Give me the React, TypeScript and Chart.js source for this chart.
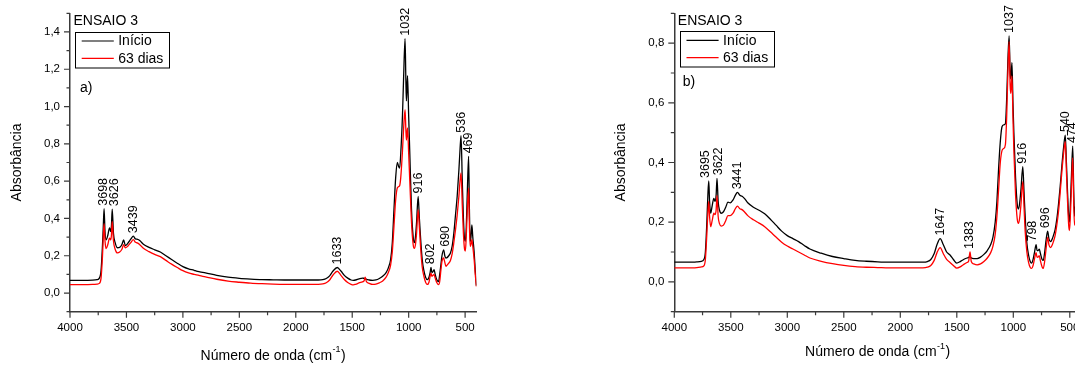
import React, { useEffect, useRef } from 'react';
import { Chart, registerables } from 'chart.js';
Chart.register(...registerables);

const FONT = "'Liberation Sans', Arial, Helvetica, sans-serif";
const AXIS = '#3a3a3a';

const seriesNames = ['Início', '63 dias'];
const seriesColors = ['#000000', '#ff0000'];

// ---------- Panel a) ----------
const waveA = [4000, 3900, 3800, 3760, 3740, 3725, 3712, 3705, 3698, 3690, 3680, 3665, 3650, 3640, 3633, 3626, 3615, 3600, 3580, 3560, 3540, 3525, 3510, 3490, 3460, 3439, 3420, 3400, 3380, 3350, 3300, 3250, 3200, 3150, 3100, 3050, 3000, 2950, 2900, 2880, 2850, 2800, 2700, 2600, 2500, 2400, 2300, 2200, 2100, 2000, 1900, 1800, 1760, 1730, 1700, 1670, 1633, 1600, 1570, 1540, 1510, 1490, 1470, 1440, 1410, 1395, 1385, 1375, 1350, 1320, 1290, 1260, 1230, 1200, 1180, 1160, 1145, 1130, 1115, 1100, 1090, 1080, 1070, 1055, 1045, 1032, 1025, 1020, 1010, 1000, 990, 975, 960, 950, 940, 930, 916, 905, 895, 880, 865, 850, 835, 820, 810, 802, 795, 785, 775, 765, 750, 735, 725, 715, 705, 690, 680, 670, 660, 645, 630, 615, 600, 585, 570, 555, 545, 536, 525, 515, 505, 498, 490, 480, 469, 462, 455, 448, 440, 432, 420, 410, 400];
const inicioA = [0.068, 0.068, 0.069, 0.072, 0.08, 0.12, 0.26, 0.36, 0.452, 0.33, 0.285, 0.31, 0.35, 0.33, 0.36, 0.45, 0.32, 0.27, 0.243, 0.245, 0.26, 0.285, 0.255, 0.265, 0.29, 0.305, 0.29, 0.288, 0.28, 0.262, 0.245, 0.232, 0.22, 0.2, 0.18, 0.16, 0.142, 0.13, 0.122, 0.118, 0.114, 0.108, 0.095, 0.085, 0.079, 0.075, 0.072, 0.071, 0.07, 0.07, 0.07, 0.07, 0.072, 0.078, 0.092, 0.118, 0.137, 0.118, 0.095, 0.08, 0.07, 0.068, 0.07, 0.076, 0.08, 0.079, 0.078, 0.074, 0.07, 0.068, 0.07, 0.078, 0.09, 0.11, 0.135, 0.18, 0.27, 0.45, 0.62, 0.7, 0.68, 0.67, 0.75, 0.95, 1.15, 1.364, 1.15, 1.03, 1.166, 0.95, 0.75, 0.45, 0.3, 0.27, 0.3, 0.38, 0.518, 0.4, 0.3, 0.18, 0.12, 0.085, 0.072, 0.085, 0.11, 0.138, 0.11, 0.115, 0.126, 0.1, 0.07, 0.062, 0.1, 0.15, 0.2, 0.232, 0.2, 0.188, 0.19, 0.2, 0.215, 0.25, 0.32, 0.42, 0.52, 0.66, 0.77, 0.844, 0.6, 0.4, 0.29, 0.277, 0.35, 0.55, 0.733, 0.45, 0.277, 0.3, 0.366, 0.3, 0.22, 0.12, 0.04];
const diasA = [0.045, 0.045, 0.046, 0.048, 0.052, 0.08, 0.2, 0.3, 0.372, 0.28, 0.238, 0.26, 0.295, 0.285, 0.31, 0.384, 0.28, 0.235, 0.215, 0.22, 0.235, 0.26, 0.242, 0.25, 0.272, 0.286, 0.272, 0.268, 0.258, 0.24, 0.222, 0.207, 0.195, 0.175, 0.155, 0.137, 0.12, 0.108, 0.1, 0.097, 0.093, 0.087, 0.074, 0.064, 0.058, 0.053, 0.05, 0.048, 0.047, 0.047, 0.047, 0.047, 0.049, 0.055, 0.07, 0.097, 0.117, 0.095, 0.073, 0.057, 0.047, 0.044, 0.047, 0.054, 0.06, 0.065, 0.085, 0.062, 0.052, 0.046, 0.048, 0.055, 0.065, 0.085, 0.11, 0.15, 0.22, 0.36, 0.5, 0.565, 0.57, 0.575, 0.62, 0.76, 0.88, 0.983, 0.88, 0.82, 0.885, 0.75, 0.6, 0.38, 0.26, 0.24, 0.26, 0.32, 0.447, 0.35, 0.25, 0.14, 0.09, 0.058, 0.046, 0.058, 0.09, 0.107, 0.09, 0.095, 0.1, 0.08, 0.055, 0.045, 0.062, 0.12, 0.17, 0.188, 0.165, 0.143, 0.15, 0.16, 0.175, 0.21, 0.27, 0.34, 0.42, 0.52, 0.6, 0.644, 0.47, 0.32, 0.235, 0.225, 0.3, 0.45, 0.563, 0.36, 0.25, 0.26, 0.286, 0.25, 0.18, 0.1, 0.035];
const peaksA = [3698, 3626, 3439, 1633, 1032, 916, 802, 690, 536, 469];
const labelPosA = [3700, 3601, 3439, 1633, 1032, 916, 810, 672, 536, 469];
const yMajorA = [0, 0.2, 0.4, 0.6, 0.8, 1.0, 1.2, 1.4];
const yMinorA = [-0.1, 0.1, 0.3, 0.5, 0.7, 0.9, 1.1, 1.3, 1.5];

// ---------- Panel b) ----------
const waveB = [4000, 3900, 3800, 3760, 3740, 3725, 3712, 3703, 3695, 3688, 3678, 3665, 3650, 3640, 3630, 3622, 3612, 3600, 3585, 3565, 3545, 3525, 3505, 3480, 3460, 3441, 3420, 3400, 3380, 3350, 3300, 3250, 3200, 3150, 3100, 3050, 3000, 2950, 2900, 2850, 2800, 2700, 2600, 2500, 2400, 2300, 2200, 2100, 2000, 1900, 1800, 1760, 1730, 1700, 1675, 1647, 1620, 1590, 1560, 1530, 1500, 1470, 1440, 1410, 1395, 1383, 1372, 1350, 1320, 1290, 1260, 1230, 1200, 1180, 1160, 1145, 1130, 1115, 1100, 1085, 1070, 1058, 1048, 1037, 1028, 1022, 1012, 1003, 995, 980, 965, 955, 945, 932, 916, 905, 895, 880, 865, 850, 838, 825, 812, 798, 790, 780, 770, 760, 745, 735, 722, 710, 696, 685, 672, 660, 645, 630, 615, 600, 585, 570, 555, 540, 530, 520, 510, 503, 495, 485, 474, 465, 458, 450, 440, 430, 420, 410, 400];
const inicioB = [0.066, 0.066, 0.067, 0.069, 0.074, 0.1, 0.2, 0.29, 0.338, 0.27, 0.23, 0.255, 0.28, 0.27, 0.29, 0.347, 0.27, 0.24, 0.23, 0.235, 0.25, 0.267, 0.265, 0.275, 0.29, 0.3, 0.29, 0.287, 0.28, 0.265, 0.25, 0.24, 0.228, 0.21, 0.19, 0.17, 0.155, 0.145, 0.135, 0.122, 0.11, 0.096, 0.085, 0.078, 0.072, 0.069, 0.067, 0.066, 0.066, 0.066, 0.066, 0.068, 0.075, 0.095, 0.125, 0.145, 0.125, 0.1, 0.09, 0.075, 0.063, 0.068, 0.075, 0.08, 0.082, 0.085, 0.08, 0.078, 0.078, 0.083, 0.092, 0.105, 0.125, 0.15, 0.2, 0.27, 0.38, 0.47, 0.52, 0.526, 0.53, 0.62, 0.74, 0.824, 0.7, 0.68, 0.735, 0.6, 0.5, 0.35, 0.26, 0.244, 0.26, 0.31, 0.386, 0.3, 0.22, 0.13, 0.09, 0.068, 0.063, 0.075, 0.1, 0.125, 0.105, 0.105, 0.11, 0.095, 0.075, 0.072, 0.1, 0.14, 0.17, 0.145, 0.135, 0.14, 0.155, 0.175, 0.21, 0.26, 0.32, 0.39, 0.45, 0.492, 0.4, 0.3, 0.22, 0.2, 0.26, 0.36, 0.455, 0.3, 0.22, 0.25, 0.27, 0.22, 0.15, 0.09, 0.05];
const diasB = [0.047, 0.047, 0.048, 0.05, 0.053, 0.075, 0.16, 0.23, 0.27, 0.22, 0.185, 0.205, 0.23, 0.225, 0.24, 0.29, 0.22, 0.195, 0.187, 0.19, 0.205, 0.222, 0.222, 0.23, 0.245, 0.254, 0.245, 0.242, 0.235, 0.222, 0.208, 0.197, 0.185, 0.168, 0.15, 0.133, 0.12, 0.11, 0.1, 0.09, 0.08, 0.069, 0.061, 0.055, 0.051, 0.049, 0.048, 0.047, 0.047, 0.047, 0.047, 0.049, 0.055, 0.072, 0.098, 0.115, 0.095, 0.075, 0.065, 0.055, 0.046, 0.05, 0.058, 0.065, 0.07, 0.1, 0.068, 0.06, 0.057, 0.06, 0.068, 0.08, 0.098, 0.12, 0.16, 0.22, 0.31, 0.4, 0.44, 0.447, 0.46, 0.56, 0.7, 0.805, 0.66, 0.632, 0.69, 0.55, 0.44, 0.29, 0.21, 0.196, 0.21, 0.26, 0.336, 0.25, 0.17, 0.1, 0.065, 0.048, 0.045, 0.055, 0.078, 0.098, 0.082, 0.083, 0.088, 0.07, 0.05, 0.045, 0.07, 0.11, 0.149, 0.125, 0.115, 0.12, 0.135, 0.155, 0.19, 0.235, 0.3, 0.37, 0.43, 0.47, 0.37, 0.27, 0.19, 0.172, 0.22, 0.32, 0.415, 0.26, 0.19, 0.2, 0.22, 0.18, 0.12, 0.07, 0.04];
const peaksB = [3695, 3622, 3441, 1647, 1383, 1037, 916, 798, 696, 540, 474];
const labelPosB = [3720, 3610, 3441, 1647, 1383, 1037, 916, 826, 718, 540, 474];
const yMajorB = [0, 0.2, 0.4, 0.6, 0.8];
const yMinorB = [-0.1, 0.1, 0.3, 0.5, 0.7, 0.9];

// shared x ticks
const xMajor = [4000, 3500, 3000, 2500, 2000, 1500, 1000, 500];
const xMinor = [3750, 3250, 2750, 2250, 1750, 1250, 750];

type Panel = {
  wave: number[]; inicio: number[]; dias: number[]; peaks: number[]; labelPos: number[];
  yMajor: number[]; yMinor: number[]; yMin: number; yMax: number;
  tag: string; tagDx: number; tagY: number; yTitleX: number; xTitleY: number;
  legendDx: number; legendTop: number;
  width: number; padRight: number; yWidth: number; left: number;
};

const panels: Panel[] = [
  { wave: waveA, inicio: inicioA, dias: diasA, peaks: peaksA, labelPos: labelPosA, yMajor: yMajorA, yMinor: yMinorA, yMin: -0.1, yMax: 1.5,
    tag: 'a)', tagDx: 10, tagY: 88.3, yTitleX: 17, xTitleY: 356, legendDx: 5.2, legendTop: 31.7,
    width: 540, padRight: 63.6, yWidth: 70, left: 0 },
  { wave: waveB, inicio: inicioB, dias: diasB, peaks: peaksB, labelPos: labelPosB, yMajor: yMajorB, yMinor: yMinorB, yMin: -0.1, yMax: 0.9,
    tag: 'b)', tagDx: 8.4, tagY: 81.7, yTitleX: 81, xTitleY: 352.5, legendDx: 5.7, legendTop: 31,
    width: 560, padRight: 18.9, yWidth: 134.3, left: 540 },
];

function makePlugin(p: Panel) {
  return {
    id: 'panelDecor',
    afterDraw(chart: any) {
      const { ctx, chartArea: ca } = chart;
      const x = chart.scales.x;
      const y = chart.scales.y;
      ctx.save();
      ctx.strokeStyle = AXIS;
      ctx.lineWidth = 1.2;
      ctx.beginPath();
      xMajor.forEach((v) => { const px = x.getPixelForValue(v); ctx.moveTo(px, ca.bottom); ctx.lineTo(px, ca.bottom + 6); });
      xMinor.forEach((v) => { const px = x.getPixelForValue(v); ctx.moveTo(px, ca.bottom); ctx.lineTo(px, ca.bottom + 3.5); });
      p.yMajor.forEach((v) => { const py = y.getPixelForValue(v); ctx.moveTo(ca.left, py); ctx.lineTo(ca.left - 6, py); });
      p.yMinor.forEach((v) => { const py = y.getPixelForValue(v); ctx.moveTo(ca.left, py); ctx.lineTo(ca.left - 3.5, py); });
      ctx.stroke();

      // peak labels
      ctx.fillStyle = '#000';
      ctx.font = `12.5px ${FONT}`;
      p.peaks.forEach((w, k) => {
        const i = p.wave.indexOf(w);
        const val = Math.max(p.inicio[i], p.dias[i]);
        const px = x.getPixelForValue(p.labelPos[k]);
        const py = y.getPixelForValue(val) - 3;
        ctx.save();
        ctx.translate(px, py);
        ctx.rotate(-Math.PI / 2);
        ctx.textAlign = 'left';
        ctx.textBaseline = 'middle';
        ctx.fillText(String(w), 0, 0);
        ctx.restore();
      });

      // axis titles
      ctx.font = `14px ${FONT}`;
      ctx.save();
      ctx.translate(p.yTitleX, (ca.top + ca.bottom) / 2);
      ctx.rotate(-Math.PI / 2);
      ctx.textAlign = 'center';
      ctx.textBaseline = 'middle';
      ctx.fillText('Absorbância', 0, 0);
      ctx.restore();

      const t1 = 'Número de onda (cm';
      const sup = '-1';
      const t2 = ')';
      ctx.font = `14px ${FONT}`;
      const w1 = ctx.measureText(t1).width;
      const w3 = ctx.measureText(t2).width;
      ctx.font = `9px ${FONT}`;
      const w2 = ctx.measureText(sup).width;
      const total = w1 + w2 + w3 + 1;
      const sx = (ca.left + ca.right) / 2 - total / 2;
      ctx.textAlign = 'left';
      ctx.textBaseline = 'middle';
      ctx.font = `14px ${FONT}`;
      ctx.fillText(t1, sx, p.xTitleY);
      ctx.font = `9px ${FONT}`;
      ctx.fillText(sup, sx + w1 + 0.5, p.xTitleY - 6);
      ctx.font = `14px ${FONT}`;
      ctx.fillText(t2, sx + w1 + w2 + 1, p.xTitleY);

      // panel heading, legend, tag
      ctx.font = `14px ${FONT}`;
      ctx.fillText('ENSAIO 3', ca.left + 3.5, 20.7);
      const lx = ca.left + p.legendDx;
      const ly = p.legendTop;
      ctx.strokeStyle = '#000';
      ctx.lineWidth = 1;
      ctx.strokeRect(Math.round(lx) + 0.5, Math.round(ly) + 0.5, 94, 35.5);
      seriesNames.forEach((name, k) => {
        const yy = ly + 9.3 + k * 17.3;
        ctx.strokeStyle = seriesColors[k];
        ctx.lineWidth = 1.2;
        ctx.beginPath();
        ctx.moveTo(lx + 6.5, yy);
        ctx.lineTo(lx + 38.6, yy);
        ctx.stroke();
        ctx.fillStyle = '#000';
        ctx.fillText(name, lx + 43, yy + 0.5);
      });
      ctx.fillText(p.tag, ca.left + p.tagDx, p.tagY);
      ctx.restore();
    },
  };
}

function PanelChart({ p }: { p: Panel }) {
  const ref = useRef<HTMLCanvasElement | null>(null);
  useEffect(() => {
    if (!ref.current) return;
    const toData = (vals: number[]) => p.wave.map((w, i) => ({ x: w, y: vals[i] }));
    const chart = new Chart(ref.current, {
      type: 'line',
      data: {
        datasets: [
          { label: seriesNames[0], data: toData(p.inicio), borderColor: seriesColors[0], borderWidth: 1.3, pointRadius: 0, cubicInterpolationMode: 'monotone', order: 1 },
          { label: seriesNames[1], data: toData(p.dias), borderColor: seriesColors[1], borderWidth: 1.3, pointRadius: 0, cubicInterpolationMode: 'monotone', order: 0 },
        ],
      },
      options: {
        responsive: false,
        maintainAspectRatio: false,
        animation: false,
        devicePixelRatio: 1,
        layout: { padding: { left: 0, top: 13.3, right: p.padRight, bottom: 0 } },
        plugins: { legend: { display: false }, tooltip: { enabled: false } },
        events: [],
        scales: {
          x: {
            type: 'linear', min: 400, max: 4000, reverse: true,
            afterBuildTicks: (s: any) => { s.ticks = xMajor.map((v) => ({ value: v })); },
            afterFit: (s: any) => { s.height = 53.3; },
            grid: { display: true, drawOnChartArea: false, drawTicks: true, tickLength: 6, color: 'transparent', tickColor: 'transparent' },
            border: { display: true, color: AXIS, width: 1.5 },
            ticks: { color: '#000', font: { family: FONT, size: 11.5 }, padding: 3, maxRotation: 0, autoSkip: false, callback: (v: any) => String(v) },
          },
          y: {
            type: 'linear', min: p.yMin, max: p.yMax,
            afterBuildTicks: (s: any) => { s.ticks = p.yMajor.map((v) => ({ value: v })); },
            afterFit: (s: any) => { s.width = p.yWidth; },
            grid: { display: true, drawOnChartArea: false, drawTicks: true, tickLength: 6, color: 'transparent', tickColor: 'transparent' },
            border: { display: true, color: AXIS, width: 1.5 },
            ticks: { color: '#000', font: { family: FONT, size: 11.5 }, padding: 4, autoSkip: false, callback: (v: any) => Number(v).toFixed(1).replace('.', ',') },
          },
        },
      },
      plugins: [makePlugin(p)],
    } as any);
    return () => chart.destroy();
  }, [p]);
  return (
    <canvas
      ref={ref}
      width={p.width}
      height={365}
      style={{ position: 'absolute', left: p.left, top: 0, width: p.width, height: 365 }}
    />
  );
}

export default function App() {
  return (
    <div style={{ position: 'fixed', left: 0, top: 0, width: 1075, height: 365, overflow: 'hidden', background: '#fff' }}>
      {panels.map((p, i) => <PanelChart key={i} p={p} />)}
    </div>
  );
}
